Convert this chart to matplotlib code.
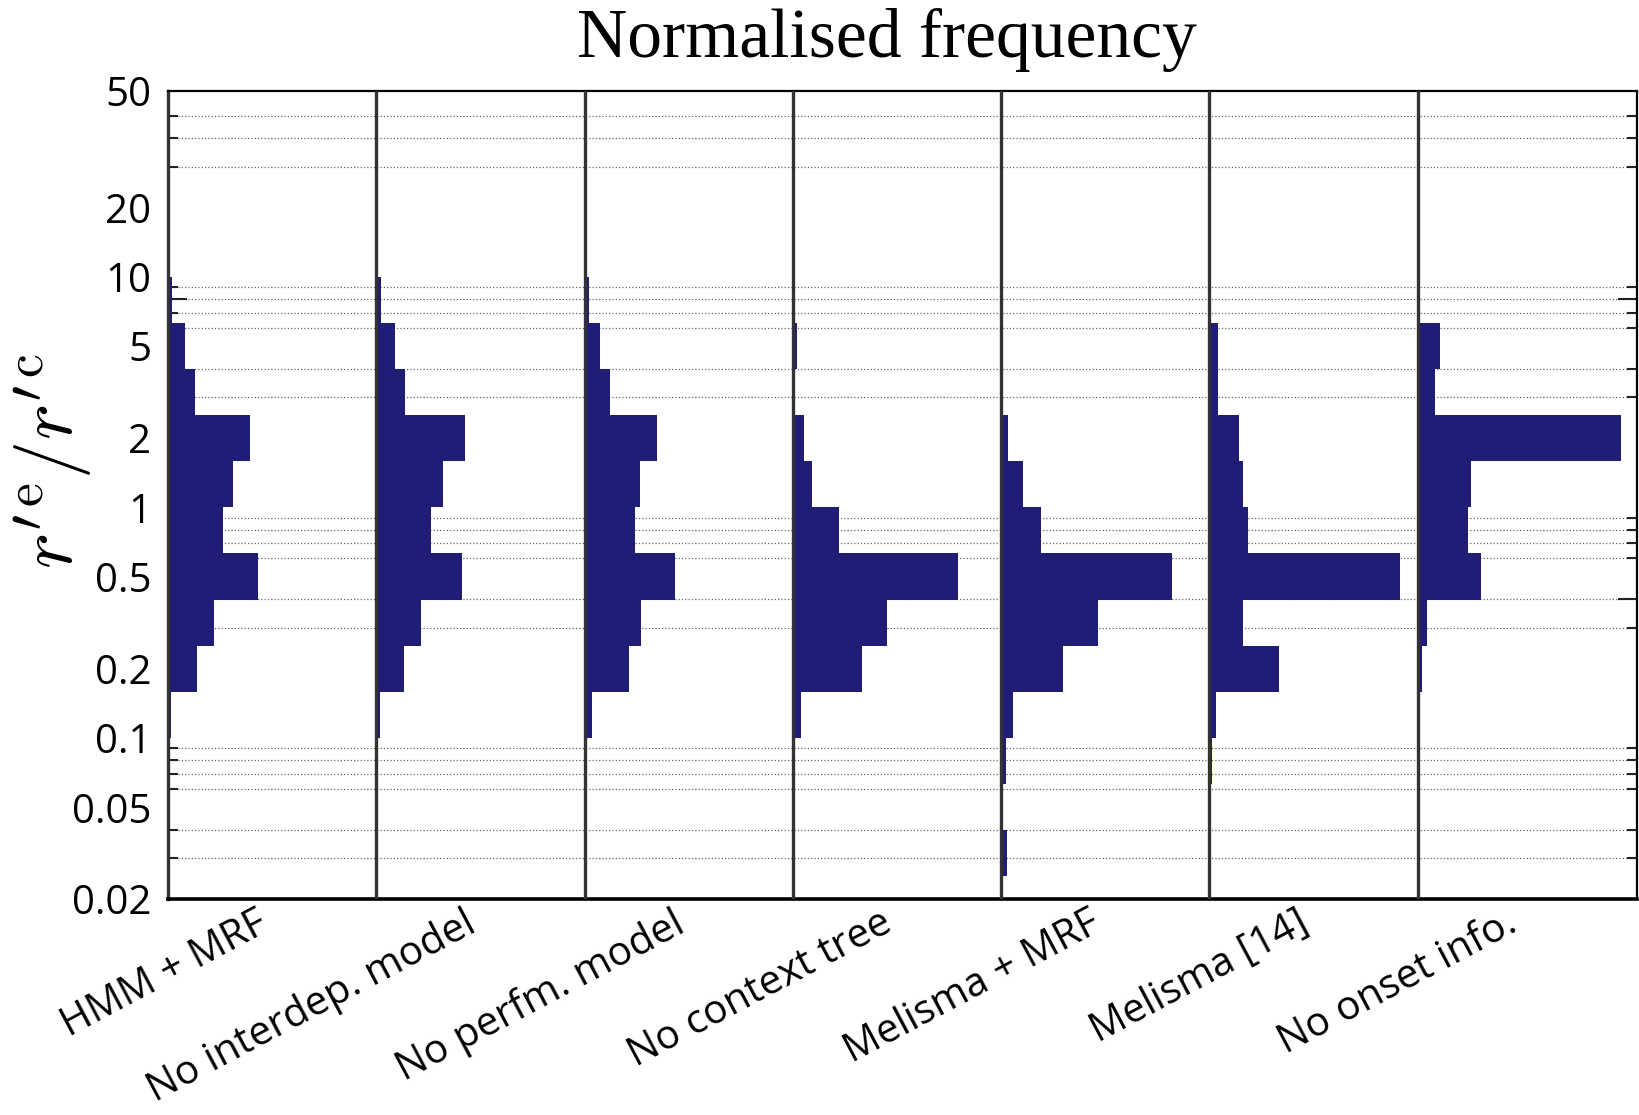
import matplotlib
matplotlib.use("Agg")
import matplotlib.pyplot as plt
import numpy as np

plt.rcParams['mathtext.fontset'] = 'cm'

# bin edges of the log-spaced histogram (5 bins per decade)
edges = [0.0251, 0.0398, 0.0631, 0.1, 0.1585, 0.2512, 0.3981, 0.631, 1.0, 1.585, 2.512, 3.981, 6.31, 10.0]

methods = ['HMM + MRF', 'No interdep. model', 'No perfm. model', 'No context tree',
           'Melisma + MRF', 'Melisma [14]', 'No onset info.']

# normalised frequency per bin, bottom bin first
hmm_mrf      = [0, 0, 0, 0.007, 0.070, 0.110, 0.217, 0.131, 0.157, 0.197, 0.064, 0.042, 0.010]
no_interdep  = [0, 0, 0, 0.008, 0.066, 0.108, 0.206, 0.131, 0.161, 0.214, 0.069, 0.045, 0.011]
no_perfm     = [0, 0, 0, 0.017, 0.108, 0.135, 0.217, 0.121, 0.133, 0.174, 0.061, 0.037, 0.010]
no_context   = [0, 0, 0, 0.019, 0.167, 0.226, 0.396, 0.112, 0.046, 0.027, 0.006, 0.010, 0]
melisma_mrf  = [0.014, 0, 0.011, 0.029, 0.149, 0.233, 0.410, 0.097, 0.054, 0.018, 0, 0, 0]
melisma      = [0, 0, 0.007, 0.017, 0.168, 0.081, 0.458, 0.094, 0.080, 0.072, 0.022, 0.020, 0]
no_onset     = [0, 0, 0, 0, 0.011, 0.022, 0.153, 0.121, 0.129, 0.489, 0.042, 0.054, 0]

series = [hmm_mrf, no_interdep, no_perfm, no_context, melisma_mrf, melisma, no_onset]

ytick_vals = [0.02, 0.05, 0.1, 0.2, 0.5, 1, 2, 5, 10, 20, 64]
ytick_labels = ['0.02', '0.05', '0.1', '0.2', '0.5', '1', '2', '5', '10', '20', '50']
grid_vals = [0.03, 0.04, 0.05, 0.06, 0.07, 0.08, 0.09, 0.1,
             0.2, 0.3, 0.4, 0.5, 0.6, 0.7, 0.8, 0.9, 1,
             2, 3, 4, 5, 6, 7, 8, 9, 10, 20, 30, 40, 50]

spacing = 0.5
navy = '#1f1d76'

fig = plt.figure(figsize=(16.4, 11.15), dpi=100)
ax = fig.add_axes([168/1640, 1-899/1115, (1637-168)/1640, (899-91)/1115])

lo = np.array(edges[:-1])
hi = np.array(edges[1:])
for i, s in enumerate(series):
    ax.barh(lo, s, height=hi-lo, left=i*spacing, align='edge', color=navy,
            edgecolor='none', zorder=2)
    if i > 0:
        ax.axvline(i*spacing, color='#333333', lw=2.4, zorder=3)

ax.set_yscale('log')
ax.set_ylim(0.02, 64)
ax.set_xlim(0, 3.527)

ax.set_yticks(ytick_vals)
ax.set_yticklabels(ytick_labels, family='Open Sans', fontsize=29)
ax.set_yticks(grid_vals, minor=True)
ax.yaxis.set_minor_formatter(matplotlib.ticker.NullFormatter())
ax.tick_params(axis='y', which='major', length=0, pad=12)
ax.tick_params(axis='y', which='minor', length=7, width=1.5, direction='in',
               left=True, right=True, color='#222222')
for t, v in zip(ax.yaxis.get_minor_ticks(), grid_vals):
    if v in (0.1, 1, 10):
        t.tick1line.set_markersize(14)
        t.tick2line.set_markersize(14)
ax.grid(True, which='minor', axis='y', linestyle=':', color='#666666', lw=0.9, zorder=0)

ax.set_xticks([spacing*i + 0.21 for i in range(len(methods))])
ax.set_xticklabels(methods, rotation=28, ha='right', rotation_mode='anchor',
                   family='Open Sans', fontsize=29)
ax.tick_params(axis='x', length=0, pad=3)

ax.spines['left'].set_linewidth(2.4)
ax.spines['left'].set_color('#333333')
ax.spines['bottom'].set_linewidth(2.6)
ax.spines['top'].set_linewidth(1.6)
ax.spines['right'].set_linewidth(1.6)

fig.text(887/1640, 1-40/1115, 'Normalised frequency', family='Liberation Serif',
         fontsize=50, ha='center', va='center')
fig.text(53/1640, 1-461/1115, r"$r'^{\mathrm{e}}/r'^{\mathrm{c}}$", rotation=90,
         fontsize=55, ha='center', va='center')

fig.savefig('out.png', dpi=100)
